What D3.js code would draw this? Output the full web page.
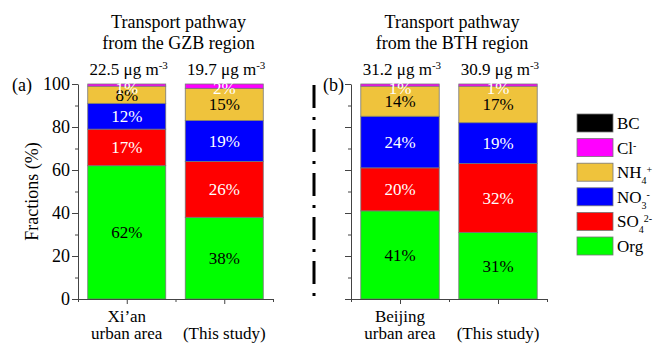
<!DOCTYPE html>
<html>
<head>
<meta charset="utf-8">
<script src="https://cdn.jsdelivr.net/npm/d3@7"></script>
<style>
  body { margin: 0; background: #fff; }
  svg text { font-family: "Liberation Serif", "Times New Roman", serif; fill: #000; }
</style>
</head>
<body>
<div id="chart"></div>
<script>
/**
 * DATA
 * */
const species = ["Org", "SO4", "NO3", "NH4", "Cl", "BC"];
const sites = ["Xi’an urban area", "GZB (This study)", "Beijing urban area", "BTH (This study)"];
const org = [62, 38, 41, 31];
const so4 = [17, 26, 20, 32];
const no3 = [12, 19, 24, 19];
const nh4 = [8, 15, 14, 17];
const cl = [1, 2, 1, 1];
const bc = [0, 0, 0, 0];
const masses = ["22.5", "19.7", "31.2", "30.9"];
const xLabels = [["Xi’an", "urban area"], ["(This study)"], ["Beijing", "urban area"], ["(This study)"]];
const panelTitles = [["Transport pathway", "from the GZB region"], ["Transport pathway", "from the BTH region"]];
const panelTags = ["(a)", "(b)"];
const yTicks = [0, 20, 40, 60, 80, 100];
const yMinor = [10, 30, 50, 70, 90];

const colors = { Org: "#00ff00", SO4: "#ff0000", NO3: "#0000ff", NH4: "#efc33c", Cl: "#ff00ff", BC: "#000000" };
const labelColor = { Org: "#000", SO4: "#fff", NO3: "#fff", NH4: "#000", Cl: "#fff", BC: "#fff" };
const legendOrder = ["BC", "Cl", "NH4", "NO3", "SO4", "Org"];
const legendText = {
  BC: [["BC", ""]],
  Cl: [["Cl", ""], ["-", "sup"]],
  NH4: [["NH", ""], ["4", "sub"], ["+", "sup"]],
  NO3: [["NO", ""], ["3", "sub"], ["-", "sup"]],
  SO4: [["SO", ""], ["4", "sub"], ["2-", "sup"]],
  Org: [["Org", ""]]
};

const width = 654, height = 344;
const rows = sites.map((s, i) => ({
  site: s, Org: org[i], SO4: so4[i], NO3: no3[i], NH4: nh4[i], Cl: cl[i], BC: bc[i]
}));
const series = d3.stack().keys(species)(rows);

const svg = d3.select("#chart").append("svg")
  .attr("width", width).attr("height", height);

const y = d3.scaleLinear().domain([0, 100]).range([299, 84]);
const panels = [
  { range: [78, 273], idx: [0, 1], labels: true },
  { range: [351, 547], idx: [2, 3], labels: false }
];

function richText(sel, parts, sup, sub) {
  parts.forEach(([t, s]) => {
    const ts = sel.append("tspan").text(t);
    if (s === "sup") ts.attr("font-size", sup).attr("baseline-shift", "super");
    if (s === "sub") ts.attr("font-size", sub).attr("baseline-shift", "sub");
  });
}

panels.forEach((p, pi) => {
  const x = d3.scaleLinear().domain([0, 2]).range(p.range);
  const g = svg.append("g");

  // bars
  series.forEach(s => {
    p.idx.forEach((si, j) => {
      const d = s[si];
      if (d[1] - d[0] <= 0) return;
      g.append("rect")
        .attr("x", x(j + 0.1))
        .attr("width", x(j + 0.9) - x(j + 0.1))
        .attr("y", y(d[1]))
        .attr("height", y(d[0]) - y(d[1]))
        .attr("fill", colors[s.key])
        .attr("stroke", "#777")
        .attr("stroke-width", 0.8);
    });
  });
  // percent labels (kept inside the bar top)
  series.forEach(s => {
    p.idx.forEach((si, j) => {
      const d = s[si];
      if (d[1] - d[0] <= 0) return;
      g.append("text")
        .attr("x", x(j + 0.5))
        .attr("y", Math.max(y((d[0] + d[1]) / 2), y(100) + 4))
        .attr("dy", "0.35em")
        .attr("text-anchor", "middle")
        .attr("font-size", 17)
        .style("fill", labelColor[s.key])
        .text(`${d[1] - d[0]}%`);
    });
  });

  // y axis
  const yAxis = d3.axisLeft(y).tickValues(yTicks).tickSize(6).tickSizeOuter(0)
    .tickFormat(p.labels ? d3.format("d") : "");
  const ya = g.append("g").attr("transform", `translate(${p.range[0]},0)`).call(yAxis);
  ya.selectAll("text").attr("font-size", 18).attr("x", -8);
  g.append("g").attr("transform", `translate(${p.range[0]},0)`)
    .call(d3.axisLeft(y).tickValues(yMinor).tickSize(3).tickFormat(""))
    .select(".domain").remove();

  // x axis
  g.append("g").attr("transform", `translate(0,${y(0)})`)
    .call(d3.axisBottom(x).tickValues([0.5, 1.5]).tickSize(5).tickSizeOuter(0).tickFormat(""));
  g.append("g").attr("transform", `translate(0,${y(0)})`)
    .call(d3.axisBottom(x).tickValues([0, 1, 2]).tickSize(3).tickFormat(""))
    .select(".domain").remove();
  g.selectAll(".domain, .tick line").attr("stroke", "#444");

  // category labels
  p.idx.forEach((si, j) => {
    const t = g.append("text").attr("text-anchor", "middle").attr("font-size", 17);
    const lines = xLabels[si];
    lines.forEach((l, k) => {
      t.append("tspan").attr("x", x(j + 0.5))
        .attr("y", lines.length === 2 ? 322 + k * 17 : 339).text(l);
    });
    // mass concentration
    const m = g.append("text").attr("x", x(j + 0.5) + 2).attr("y", 75)
      .attr("text-anchor", "middle").attr("font-size", 17);
    richText(m, [[`${masses[si]} μg m`, ""], ["-3", "sup"]], 11, 11);
  });

  // panel title
  panelTitles[pi].forEach((l, k) => {
    g.append("text").attr("x", x(1) + 3).attr("y", 28 + k * 21)
      .attr("text-anchor", "middle").attr("font-size", 18).text(l);
  });
  g.append("text").attr("x", pi === 0 ? 12 : 323).attr("y", 91)
    .attr("font-size", 18).text(panelTags[pi]);
});

// y title
svg.append("text")
  .attr("transform", `translate(38,${y(50)}) rotate(-90)`)
  .attr("text-anchor", "middle").attr("font-size", 18)
  .text("Fractions (%)");

// dash-dot separator
svg.append("line")
  .attr("x1", 314).attr("x2", 314)
  .attr("y1", 85).attr("y2", 298)
  .attr("stroke", "#000").attr("stroke-width", 3)
  .attr("stroke-dasharray", "23,9,3,9");

// legend
const ly = d3.scalePoint().domain(legendOrder).range([114, 237]);
const legend = svg.append("g");
legendOrder.forEach(k => {
  legend.append("rect")
    .attr("x", 577).attr("y", ly(k))
    .attr("width", 36).attr("height", 18)
    .attr("fill", colors[k]).attr("stroke", "#777").attr("stroke-width", 0.8);
  const t = legend.append("text").attr("x", 617).attr("y", ly(k) + 15).attr("font-size", 17);
  richText(t, legendText[k], 10, 10);
});
</script>
</body>
</html>
